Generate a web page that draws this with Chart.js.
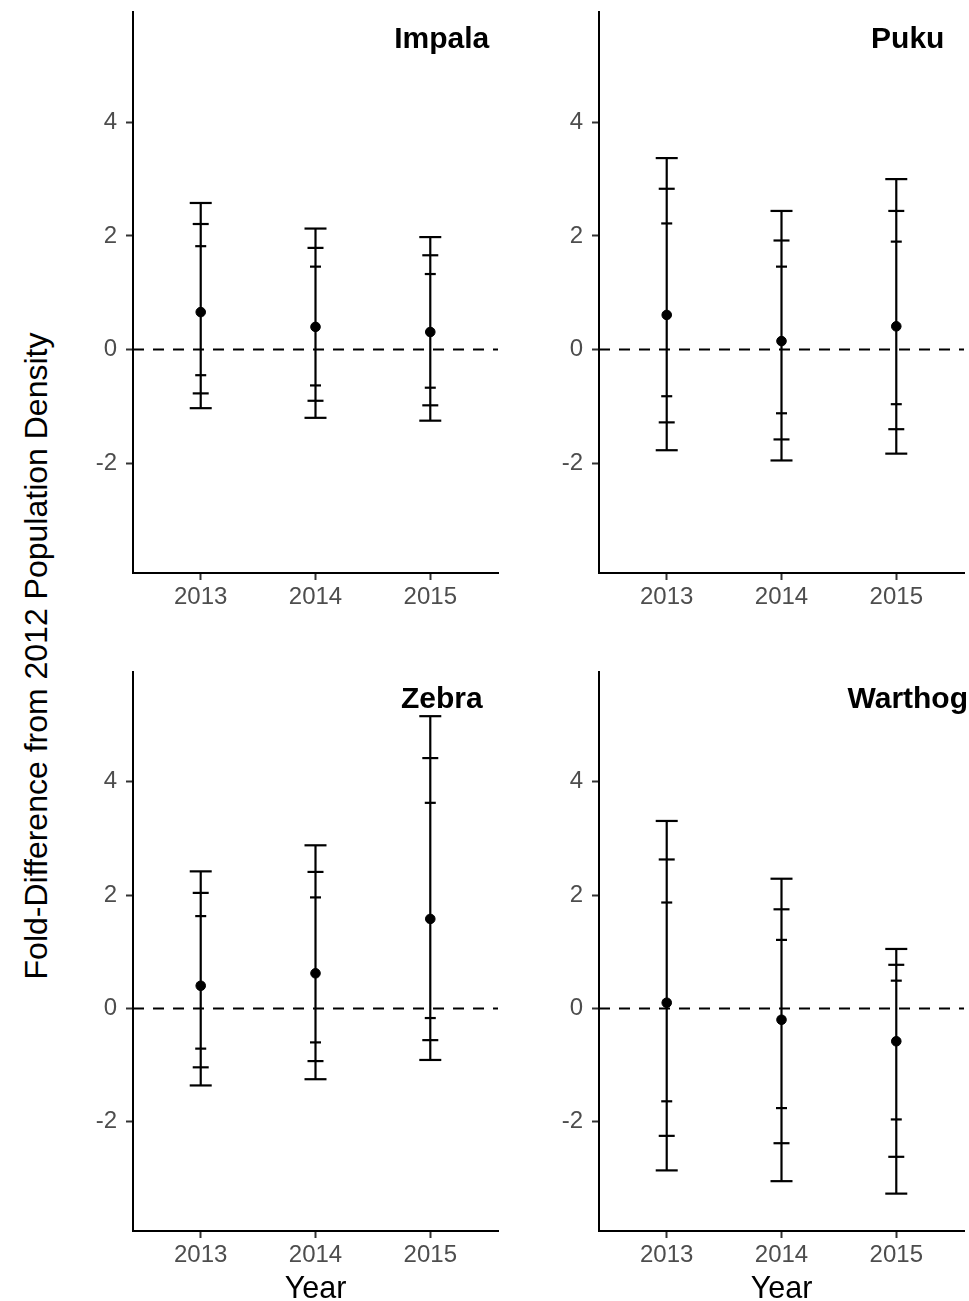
<!DOCTYPE html>
<html><head><meta charset="utf-8">
<script src="https://cdn.jsdelivr.net/npm/chart.js@4.4.1/dist/chart.umd.min.js"></script>
<style>
html,body{margin:0;padding:0;background:#fff;width:969px;height:1301px;overflow:hidden;position:relative;}
.panel{position:absolute;}
#ytitle{position:absolute;left:36px;top:656px;transform:translate(-50%,-50%) rotate(-90deg);font-family:"Liberation Sans",Arial,sans-serif;font-size:32px;line-height:1;white-space:nowrap;color:#000;}
</style></head><body>
<canvas id="c0" class="panel" width="450" height="630" style="left:60px;top:0px"></canvas>
<canvas id="c1" class="panel" width="443" height="630" style="left:526px;top:0px"></canvas>
<canvas id="c2" class="panel" width="450" height="660" style="left:60px;top:660px"></canvas>
<canvas id="c3" class="panel" width="443" height="660" style="left:526px;top:660px"></canvas>
<div id="ytitle">Fold-Difference from 2012 Population Density</div>
<script>
// ---- data ----
const years = [2013, 2014, 2015];
const yearLabels = ['2013', '2014', '2015'];
const yTicks = [-2, 0, 2, 4];
const speciesNames = ['Impala', 'Puku', 'Zebra', 'Warthog'];

const impalaMean    = [0.66, 0.40, 0.31];
const impalaOuterHi = [2.58, 2.13, 1.98];
const impalaMidHi   = [2.21, 1.79, 1.66];
const impalaInnerHi = [1.82, 1.46, 1.33];
const impalaInnerLo = [-0.45, -0.63, -0.67];
const impalaMidLo   = [-0.77, -0.90, -0.98];
const impalaOuterLo = [-1.03, -1.20, -1.25];

const pukuMean    = [0.61, 0.15, 0.41];
const pukuOuterHi = [3.37, 2.44, 3.00];
const pukuMidHi   = [2.83, 1.92, 2.44];
const pukuInnerHi = [2.22, 1.46, 1.90];
const pukuInnerLo = [-0.82, -1.12, -0.96];
const pukuMidLo   = [-1.28, -1.58, -1.40];
const pukuOuterLo = [-1.77, -1.95, -1.83];

const zebraMean    = [0.40, 0.62, 1.58];
const zebraOuterHi = [2.42, 2.88, 5.16];
const zebraMidHi   = [2.04, 2.41, 4.42];
const zebraInnerHi = [1.63, 1.96, 3.63];
const zebraInnerLo = [-0.71, -0.60, -0.17];
const zebraMidLo   = [-1.04, -0.93, -0.56];
const zebraOuterLo = [-1.36, -1.25, -0.91];

const warthogMean    = [0.10, -0.20, -0.58];
const warthogOuterHi = [3.31, 2.29, 1.05];
const warthogMidHi   = [2.63, 1.75, 0.77];
const warthogInnerHi = [1.87, 1.21, 0.49];
const warthogInnerLo = [-1.64, -1.76, -1.96];
const warthogMidLo   = [-2.25, -2.38, -2.62];
const warthogOuterLo = [-2.86, -3.05, -3.27];

// ---- layout constants ----
const X_MIN = 2012.41, X_MAX = 2015.59;
const Y_MIN = -3.93, Y_MAX = 5.94;
const TITLE_X = 2015.1, TITLE_Y = 5.31;
const FONT = '"Liberation Sans", Arial, sans-serif';

const panels = [
  {name: speciesNames[0], mean: impalaMean, oh: impalaOuterHi, mh: impalaMidHi, ih: impalaInnerHi, il: impalaInnerLo, ml: impalaMidLo, ol: impalaOuterLo},
  {name: speciesNames[1], mean: pukuMean, oh: pukuOuterHi, mh: pukuMidHi, ih: pukuInnerHi, il: pukuInnerLo, ml: pukuMidLo, ol: pukuOuterLo},
  {name: speciesNames[2], mean: zebraMean, oh: zebraOuterHi, mh: zebraMidHi, ih: zebraInnerHi, il: zebraInnerLo, ml: zebraMidLo, ol: zebraOuterLo},
  {name: speciesNames[3], mean: warthogMean, oh: warthogOuterHi, mh: warthogMidHi, ih: warthogInnerHi, il: warthogInnerLo, ml: warthogMidLo, ol: warthogOuterLo}
];

Chart.defaults.font.family = FONT;

const panelTitlePlugin = {
  id: 'panelTitle',
  afterDatasetsDraw(chart, args, opts) {
    const {ctx, scales: {x, y}} = chart;
    ctx.save();
    ctx.font = 'bold 30px ' + FONT;
    ctx.fillStyle = '#000';
    ctx.textAlign = 'center';
    ctx.textBaseline = 'alphabetic';
    ctx.fillText(opts.text, x.getPixelForValue(TITLE_X), y.getPixelForValue(TITLE_Y));
    ctx.restore();
  }
};

function makeChart(id, p, isBottom, padRight) {
  const ds = [];
  ds.push({
    data: years.map((x, i) => ({x, y: p.mean[i]})),
    showLine: false, pointRadius: 4.8, pointBorderWidth: 1,
    pointBackgroundColor: '#000', pointBorderColor: '#000'
  });
  [[p.oh, p.ol, 11], [p.mh, p.ml, 8], [p.ih, p.il, 5.5]].forEach(([hi, lo, r]) => {
    ds.push({
      data: years.flatMap((x, i) => [{x, y: hi[i]}, {x, y: lo[i]}]),
      showLine: false, pointStyle: 'line', pointRadius: r, pointBorderWidth: 2.2,
      pointBorderColor: '#000', pointBackgroundColor: '#000'
    });
  });
  years.forEach((x, i) => {
    ds.push({
      data: [{x, y: p.ol[i]}, {x, y: p.oh[i]}],
      showLine: true, borderColor: '#000', borderWidth: 2.2, pointRadius: 0
    });
  });
  ds.push({
    data: [{x: X_MIN, y: 0}, {x: X_MAX, y: 0}],
    showLine: true, borderColor: '#000', borderWidth: 2, borderDash: [11, 9], pointRadius: 0
  });

  return new Chart(document.getElementById(id), {
    type: 'scatter',
    data: {datasets: ds},
    plugins: [panelTitlePlugin],
    options: {
      responsive: false, animation: false, events: [], devicePixelRatio: 1,
      layout: {autoPadding: false, padding: {top: 12, right: padRight, left: 0, bottom: 0}},
      plugins: {legend: {display: false}, tooltip: {enabled: false}, panelTitle: {text: p.name}},
      scales: {
        x: {
          type: 'linear', min: X_MIN, max: X_MAX,
          afterBuildTicks: s => { s.ticks = years.map(v => ({value: v})); },
          afterFit: s => { s.height = isBottom ? 89 : 57; s.paddingLeft = 0; s.paddingRight = 0; },
          ticks: {callback: v => yearLabels[years.indexOf(v)], color: '#4D4D4D', font: {size: 24}, padding: 3, maxRotation: 0, autoSkip: false},
          grid: {drawOnChartArea: false, drawTicks: true, tickLength: 7, tickWidth: 2, tickColor: '#333333'},
          border: {display: true, color: '#000', width: 2},
          title: {display: isBottom, text: 'Year', color: '#000', font: {size: 30.5}, padding: {top: 0, bottom: 12}}
        },
        y: {
          type: 'linear', min: Y_MIN, max: Y_MAX,
          afterBuildTicks: s => { s.ticks = yTicks.map(v => ({value: v})); },
          afterFit: s => { s.width = 73; s.paddingTop = 0; s.paddingBottom = 0; },
          ticks: {callback: v => String(v), color: '#4D4D4D', font: {size: 24}, padding: 9},
          grid: {drawOnChartArea: false, drawTicks: true, tickLength: 7, tickWidth: 2, tickColor: '#333333'},
          border: {display: true, color: '#000', width: 2}
        }
      }
    }
  });
}

makeChart('c0', panels[0], false, 12);
makeChart('c1', panels[1], false, 5);
makeChart('c2', panels[2], true, 12);
makeChart('c3', panels[3], true, 5);
</script>
</body></html>
